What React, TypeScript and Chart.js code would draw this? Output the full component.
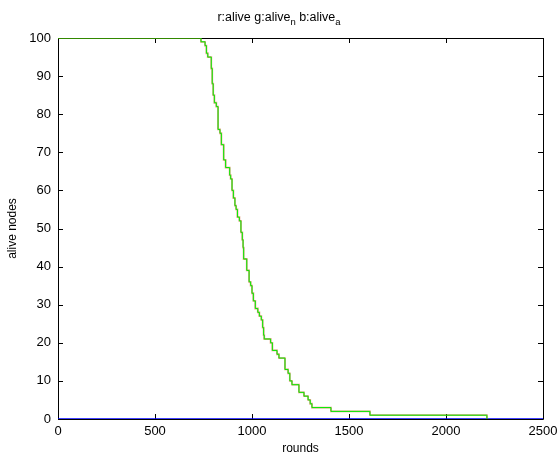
import React, { useEffect, useRef } from "react";
import { Chart, registerables } from "chart.js";

Chart.register(...registerables);

// Step data: round at which the number of alive nodes changes, and the new value
const rounds = [0, 737, 758, 765, 772, 790, 795, 800, 806, 816, 825, 835, 842, 854, 864, 885, 890, 897, 904, 912, 918, 925, 935, 943, 950, 954, 957, 973, 985, 993, 1000, 1007, 1017, 1030, 1038, 1048, 1055, 1060, 1063, 1096, 1105, 1129, 1139, 1170, 1186, 1195, 1206, 1242, 1268, 1289, 1300, 1309, 1407, 1608, 2211];
const alive = [100, 99, 98, 96, 95, 92, 88, 85, 83, 82, 76, 75, 72, 68, 66, 64, 63, 60, 58, 56, 55, 53, 52, 49, 47, 45, 42, 39, 36, 35, 33, 31, 29, 28, 27, 26, 24, 22, 21, 20, 18, 17, 16, 13, 12, 10, 9, 7, 6, 5, 4, 3, 2, 1, 0];
const aliveARounds = [0, 2500];
const aliveA = [0, 0];

const xTicks = [0, 500, 1000, 1500, 2000, 2500];
const yTicks = [0, 10, 20, 30, 40, 50, 60, 70, 80, 90, 100];

const FONT = "'Liberation Sans', Arial, Helvetica, sans-serif";

const framePlugin = {
  id: "matlabFrame",
  beforeDatasetsDraw(chart: any) {
    const { ctx, chartArea: a, scales } = chart;
    ctx.save();
    ctx.strokeStyle = "#000";
    ctx.lineWidth = 1;
    ctx.beginPath();
    ctx.rect(Math.round(a.left) + 0.5, Math.round(a.top) + 0.5, Math.round(a.right - a.left), Math.round(a.bottom - a.top));
    const L = 5;
    xTicks.forEach((v) => {
      const x = Math.round(scales.x.getPixelForValue(v)) + 0.5;
      ctx.moveTo(x, a.bottom);
      ctx.lineTo(x, a.bottom - L);
      ctx.moveTo(x, a.top);
      ctx.lineTo(x, a.top + L);
    });
    yTicks.forEach((v) => {
      const y = Math.round(scales.y.getPixelForValue(v)) + 0.5;
      ctx.moveTo(a.left, y);
      ctx.lineTo(a.left + L, y);
      ctx.moveTo(a.right, y);
      ctx.lineTo(a.right - L, y);
    });
    ctx.stroke();
    ctx.restore();
  },
  afterDraw(chart: any) {
    const { ctx } = chart;
    ctx.save();
    ctx.fillStyle = "#000";
    ctx.textBaseline = "alphabetic";
    const parts: [string, boolean][] = [
      ["r:alive g:alive", false],
      ["n", true],
      [" b:alive", false],
      ["a", true],
    ];
    const mainFont = `12.5px ${FONT}`;
    const subFont = `9.5px ${FONT}`;
    let total = 0;
    parts.forEach(([t, sub]) => {
      ctx.font = sub ? subFont : mainFont;
      total += ctx.measureText(t).width;
    });
    let x = 279 - total / 2;
    const base = 21;
    parts.forEach(([t, sub]) => {
      ctx.font = sub ? subFont : mainFont;
      ctx.fillText(t, x, sub ? base + 4 : base);
      x += ctx.measureText(t).width;
    });
    ctx.restore();
  },
};

export default function App() {
  const ref = useRef<HTMLCanvasElement | null>(null);
  useEffect(() => {
    document.body.style.margin = "0";
    const pts = rounds.map((r, i) => ({ x: r, y: alive[i] }));
    const bluePts = aliveARounds.map((r, i) => ({ x: r, y: aliveA[i] }));
    const chart = new Chart(ref.current as HTMLCanvasElement, {
      type: "line",
      data: {
        datasets: [
          {
            label: "alive_a",
            data: bluePts,
            borderColor: "#0000ff",
            borderWidth: 1.5,
            pointRadius: 0,
            order: 3,
          },
          {
            label: "alive",
            data: pts,
            stepped: "before",
            borderColor: "rgba(200,70,0,0.5)",
            borderWidth: 1.8,
            pointRadius: 0,
            order: 2,
          },
          {
            label: "alive_n",
            data: pts,
            stepped: "before",
            borderColor: "#00ee00",
            borderWidth: 1,
            pointRadius: 0,
            order: 1,
          },
        ],
      },
      options: {
        responsive: false,
        animation: false,
        layout: { padding: { top: 38, right: 14, left: 0, bottom: 0 } },
        plugins: {
          legend: { display: false },
          title: { display: false },
          tooltip: { enabled: false },
        },
        scales: {
          x: {
            type: "linear",
            min: 0,
            max: 2500,
            afterFit: (s: any) => {
              s.height = 40;
              s.paddingRight = 0;
            },
            grid: { display: false, drawTicks: false },
            border: { display: false },
            ticks: {
              stepSize: 500,
              autoSkip: false,
              maxRotation: 0,
              padding: 5,
              color: "#000",
              font: { family: FONT, size: 13 },
              callback: (v: any) => String(v),
            },
            title: {
              display: true,
              text: "rounds",
              color: "#000",
              font: { family: FONT, size: 12 },
              padding: { top: 0, bottom: 3 },
            },
          },
          y: {
            min: 0,
            max: 100,
            afterFit: (s: any) => {
              s.width = 58;
            },
            grid: { display: false, drawTicks: false },
            border: { display: false },
            ticks: {
              stepSize: 10,
              autoSkip: false,
              padding: 7,
              color: "#000",
              font: { family: FONT, size: 13 },
            },
            title: {
              display: true,
              text: "alive nodes",
              color: "#000",
              font: { family: FONT, size: 12 },
              padding: { top: 5, bottom: 0 },
            },
          },
        },
      },
      plugins: [framePlugin],
    });
    return () => chart.destroy();
  }, []);
  return (
    <div style={{ width: 557, height: 459, background: "#fff" }}>
      <canvas ref={ref} width={557} height={459} />
    </div>
  );
}
